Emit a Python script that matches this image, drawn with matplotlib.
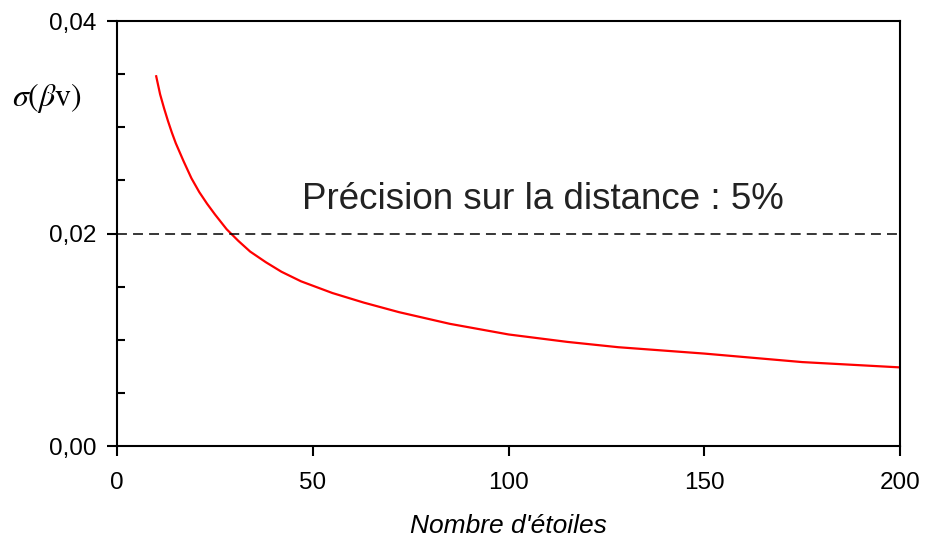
import numpy as np
import matplotlib
matplotlib.use("Agg")
import matplotlib.pyplot as plt
from matplotlib.ticker import MultipleLocator

plt.rcParams['font.family'] = ['Liberation Sans', 'DejaVu Sans']
plt.rcParams['mathtext.fontset'] = 'stix'

# values
n_etoiles = [10, 11, 12, 13, 14, 15, 17, 19, 21, 23, 25, 28, 31, 34, 38, 42,
             47, 55, 63, 72, 85, 100, 115, 128, 150, 175, 200]
sigma = [0.0348, 0.0331, 0.0318, 0.0306, 0.0295, 0.0285, 0.0268, 0.0252,
         0.0239, 0.0228, 0.0218, 0.0204, 0.0193, 0.0183, 0.0173, 0.0164,
         0.0155, 0.0144, 0.0135, 0.0126, 0.0115, 0.0105, 0.0098, 0.0093,
         0.0087, 0.0079, 0.0074]
seuil = 0.02
x_ticks = [0, 50, 100, 150, 200]
y_ticks = [0.0, 0.02, 0.04]
y_labels = ['0,00', '0,02', '0,04']

fig = plt.figure(figsize=(9.26, 5.43), dpi=100)
ax = fig.add_axes([0.1264, 0.1786, 0.8456, 0.7827])

ax.plot(n_etoiles, sigma, color='red', lw=1.6)
ax.axhline(seuil, color='black', lw=1.1, dashes=(6.5, 4))

ax.set_xlim(0, 200)
ax.set_ylim(0, 0.04)
ax.set_xticks(x_ticks)
ax.set_xticklabels([str(v) for v in x_ticks])
ax.set_yticks(y_ticks)
ax.set_yticklabels(y_labels)
ax.yaxis.set_minor_locator(MultipleLocator(0.005))

for s in ax.spines.values():
    s.set_linewidth(1.5)
ax.tick_params(which='major', direction='out', length=7, width=1.5,
               labelsize=17.5)
ax.tick_params(axis='x', which='major', pad=12)
ax.tick_params(axis='y', which='minor', direction='in', length=6, width=1.5)
ax.tick_params(axis='y', which='major', pad=8)

ax.text(108.8, 0.0232, 'Précision sur la distance : 5%', fontsize=26.5,
        ha='center', va='center', color='#222222')

fig.text(0.051, 0.82, r'$\sigma(\beta\mathrm{v})$', fontsize=23, ha='center', va='center')
ax.set_xlabel("Nombre d'étoiles", fontsize=19, style='italic', labelpad=14)

fig.savefig('out.png', dpi=100)
